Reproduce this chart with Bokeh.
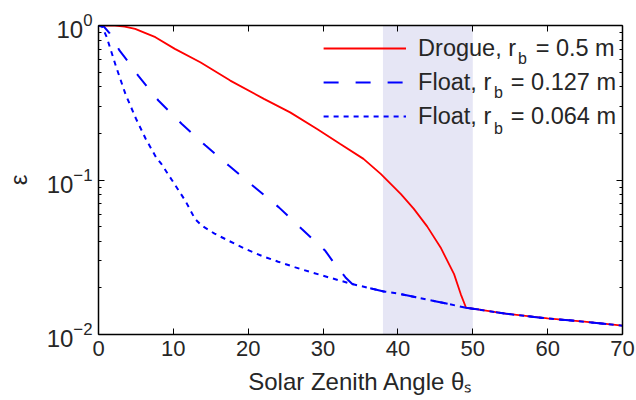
from bokeh.plotting import figure
from bokeh.models import (BoxAnnotation, Legend, LegendItem, LinearAxis, LogAxis,
                          Label, FixedTicker, LogTickFormatter)
from bokeh.embed import file_html
from bokeh.resources import INLINE

# ---- data ----
angle_drogue = [0, 2.2, 3.5, 4.9, 6.2, 7.6, 10.2, 13.6, 17.6, 22.1, 25.6, 29.2, 32.3,
                35.4, 37.7, 40.4, 42.1, 43.9, 45.7, 47.5, 48.4, 49.1, 50, 54.6, 60,
                64.9, 70]
eps_drogue = [1.0, 1.0, 0.985, 0.95, 0.895, 0.84, 0.706, 0.578, 0.44, 0.335, 0.274,
              0.214, 0.171, 0.137, 0.1096, 0.081, 0.0653, 0.0501, 0.0366, 0.0246, 0.0182,
              0.0149, 0.0147, 0.0136, 0.0127, 0.0121, 0.0114]

angle_float127 = [0, 0.6, 1.5, 2.8, 4.0, 5.3, 8.0, 11.1, 14.3, 17.4, 20.9, 24.1, 27.2,
                  30.3, 31.4, 33.0, 33.9, 38.1, 40, 44.8, 49.1, 50, 54.6, 60, 64.9, 70]
eps_float127 = [1.0, 1.0, 0.89, 0.69, 0.58, 0.474, 0.327, 0.231, 0.167, 0.124, 0.0895,
                0.0665, 0.048, 0.0348, 0.0293, 0.0234, 0.0212, 0.019, 0.0184, 0.0165,
                0.0149, 0.0147, 0.0136, 0.0127, 0.0121, 0.0114]

angle_float064 = [0, 0.5, 1.1, 2.3, 3.6, 5.0, 6.3, 7.7, 8.4, 9.8, 11.6, 12.9, 13.8, 15.5,
                  17.4, 19.5, 21.8, 24, 26.3, 28.5, 30.8, 33.9, 38.1, 40, 44.8, 49.1, 50,
                  54.6, 60, 64.9, 70]
eps_float064 = [1.0, 0.98, 0.84, 0.55, 0.36, 0.25, 0.185, 0.14, 0.127, 0.1, 0.0734,
                0.0559, 0.0506, 0.045, 0.0404, 0.036, 0.0323, 0.0296, 0.0272, 0.0252,
                0.0234, 0.0212, 0.019, 0.0184, 0.0165, 0.0149, 0.0147, 0.0136, 0.0127,
                0.0121, 0.0114]

band = (38, 50)
x_ticks = [0, 10, 20, 30, 40, 50, 60, 70]
y_ticks = [0.01, 0.1, 1]
y_minor = [0.02, 0.03, 0.04, 0.05, 0.06, 0.07, 0.08, 0.09,
           0.2, 0.3, 0.4, 0.5, 0.6, 0.7, 0.8, 0.9]
labels = ["Drogue, r   = 0.5 m", "Float, r   = 0.127 m", "Float, r   = 0.064 m"]

FONT = "Liberation Sans"
TXT = "#262626"

p = figure(width=636, height=400, y_axis_type="log", x_range=(0, 70), y_range=(0.01, 1),
           output_backend="svg", toolbar_location=None,
           min_border_left=98, min_border_right=14, min_border_top=25, min_border_bottom=66)
p.grid.visible = False
p.outline_line_color = None
p.background_fill_color = "white"

p.add_layout(BoxAnnotation(left=band[0], right=band[1], fill_color="#E6E6F5",
                           fill_alpha=1.0, line_alpha=0, level="underlay"))

r1 = p.line(angle_drogue, eps_drogue, line_color="#FF0000", line_width=1.8)
r2 = p.line(angle_float127, eps_float127, line_color="#0000FF", line_width=2,
            line_dash="15 17")
r3 = p.line(angle_float064, eps_float064, line_color="#0000FF", line_width=2,
            line_dash="5 5")

def style(ax):
    ax.axis_line_color = "black"
    ax.axis_line_width = 1.5
    ax.major_tick_line_color = "black"
    ax.minor_tick_line_color = "black"
    ax.major_tick_in = 6
    ax.major_tick_out = 0
    ax.minor_tick_in = 3
    ax.minor_tick_out = 0
    ax.major_label_text_font = FONT
    ax.major_label_text_color = TXT
    ax.axis_label_text_font = FONT
    ax.axis_label_text_color = TXT
    ax.axis_label_text_font_style = "normal"

xb = p.xaxis[0]
style(xb)
xb.ticker = FixedTicker(ticks=x_ticks)
xb.major_label_text_font_size = "22px"
xb.major_label_standoff = 6
xb.axis_label = "Solar Zenith Angle θₛ"
xb.axis_label_text_font_size = "24px"
xb.axis_label_standoff = 9

yl = p.yaxis[0]
style(yl)
yl.ticker = FixedTicker(ticks=y_ticks, minor_ticks=y_minor)
yl.formatter = LogTickFormatter()
yl.major_label_text_font_size = "24px"
yl.major_label_standoff = 6
yl.axis_label = "ε"
yl.axis_label_text_font_size = "24px"
yl.axis_label_standoff = 12

xt = LinearAxis(ticker=FixedTicker(ticks=x_ticks))
style(xt)
xt.major_label_text_font_size = "1px"
xt.major_label_text_alpha = 0
xt.major_label_standoff = 0
p.add_layout(xt, "above")

yr = LogAxis(ticker=FixedTicker(ticks=y_ticks, minor_ticks=y_minor))
style(yr)
yr.major_label_text_font_size = "1px"
yr.major_label_text_alpha = 0
yr.major_label_standoff = 0
p.add_layout(yr, "right")

legend = Legend(items=[LegendItem(label=labels[0], renderers=[r1]),
                       LegendItem(label=labels[1], renderers=[r2]),
                       LegendItem(label=labels[2], renderers=[r3])],
                location="top_right")
legend.background_fill_alpha = 0
legend.border_line_alpha = 0
legend.glyph_width = 83
legend.glyph_height = 34
legend.label_height = 34
legend.label_standoff = 12
legend.spacing = 0
legend.padding = 6
legend.margin = 0
legend.label_text_font = FONT
legend.label_text_font_size = "23.5px"
legend.label_text_color = TXT
p.add_layout(legend)

# subscripts in legend labels
for txt, xo, yo in [("b", -104.5, -33), ("b", -128.5, -67), ("b", -128.5, -103)]:
    p.add_layout(Label(x=70, y=1, x_offset=xo, y_offset=yo, text=txt, text_font=FONT,
                       text_font_size="16px", text_color=TXT, text_baseline="middle",
                       text_align="left"))

open("out.html", "w").write(file_html(p, INLINE))
